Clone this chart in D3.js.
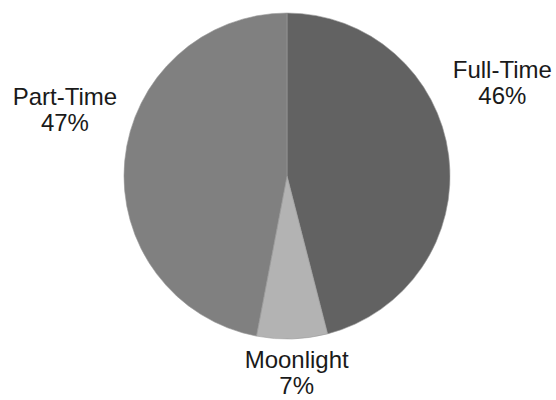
<!DOCTYPE html>
<html>
<head>
<meta charset="utf-8">
<script src="https://cdn.jsdelivr.net/npm/d3@7"></script>
<style>
  body { margin: 0; background: #fff; }
  svg { display: block; }
</style>
</head>
<body>
<div id="chart"></div>
<script>
// data
const categories = ["Full-Time", "Moonlight", "Part-Time"];
const shares = [46, 7, 47];
const sliceColors = ["#626262", "#b3b3b3", "#808080"];

const width = 556, height = 400;
const cx = 287, cy = 176, radius = 163;

const data = categories.map((c, i) => ({ name: c, value: shares[i] }));

const svg = d3.select("#chart").append("svg")
    .attr("width", width)
    .attr("height", height);

const g = svg.append("g")
    .attr("transform", "translate(" + cx + "," + cy + ")");

const pie = d3.pie().sort(null).value(d => d.value);
const arc = d3.arc().innerRadius(0).outerRadius(radius);
const color = d3.scaleOrdinal().domain(categories).range(sliceColors);

const arcs = pie(data);

g.selectAll("path")
  .data(arcs)
  .enter()
  .append("path")
    .attr("d", arc)
    .attr("fill", d => color(d.data.name))
    .attr("stroke", "#9a9a9a")
    .attr("stroke-width", 0.6);

// label placement: direction from slice mid-angle, nudged like the original best-fit labels
const labelArc = d3.arc().innerRadius(radius + 50).outerRadius(radius + 50);
const nudge = {
  "Full-Time": [4, -65],
  "Moonlight": [3, -15],
  "Part-Time": [-10, -45]
};

const labels = g.selectAll("text.lbl")
  .data(arcs)
  .enter()
  .append("text")
    .attr("class", "lbl")
    .attr("text-anchor", "middle")
    .style("font-family", "Arial, 'Liberation Sans', sans-serif")
    .style("font-size", "24px")
    .style("fill", "#1a1a1a")
    .attr("transform", d => {
      const p = labelArc.centroid(d);
      const n = nudge[d.data.name];
      return "translate(" + (p[0] + n[0]) + "," + (p[1] + n[1]) + ")";
    });

labels.append("tspan")
    .attr("x", 0)
    .attr("y", -6)
    .text(d => d.data.name);
labels.append("tspan")
    .attr("x", 0)
    .attr("y", 20)
    .text(d => d.data.value + "%");
</script>
</body>
</html>
